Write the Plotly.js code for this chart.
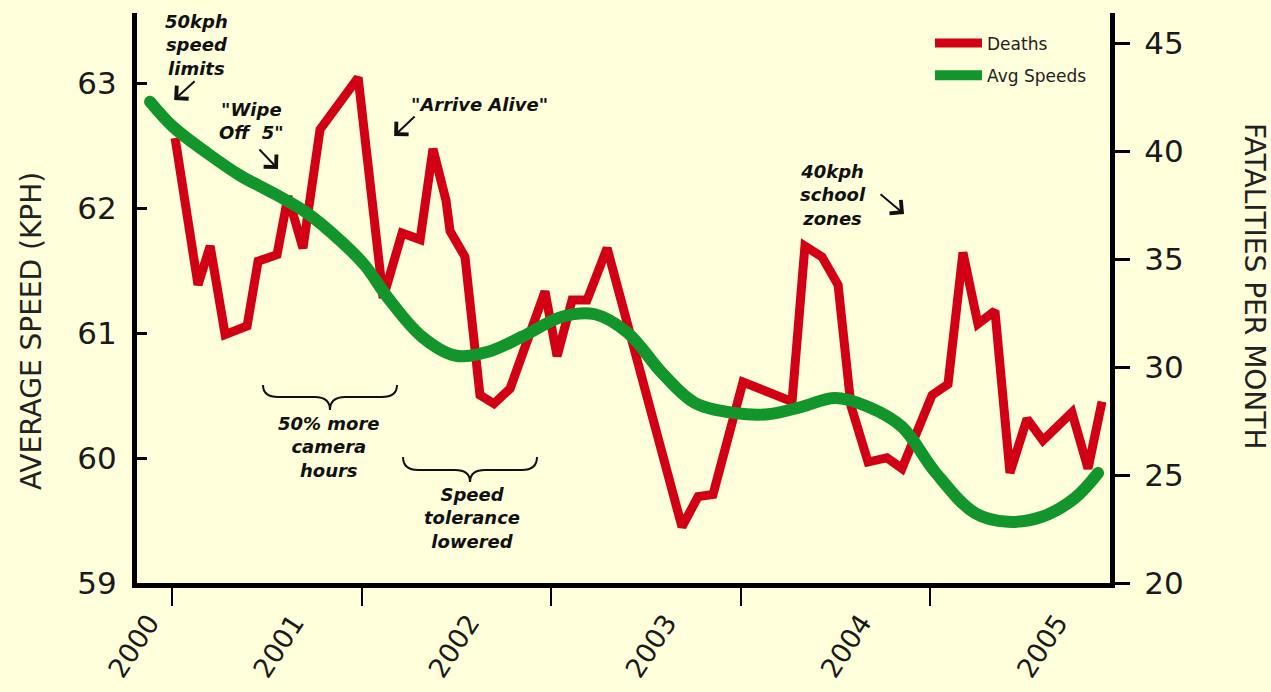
<!DOCTYPE html>
<html>
<head>
<meta charset="utf-8">
<script src="https://cdn.plot.ly/plotly-3.0.1.min.js"></script>
<style>
html,body{margin:0;padding:0;background:#FFFFDC;}
#chart{width:1271px;height:692px;}
.overplot .xy2 .js-line{stroke-linecap:round;}
</style>
</head>
<body>
<div id="chart"></div>
<script>
// ---- Data ----
// Monthly road deaths (right axis, fatalities per month), x in decimal years
const deathsX = [2000.016,2000.137,2000.201,2000.280,2000.396,2000.454,2000.554,2000.612,2000.691,2000.781,
  2000.982,2001.114,2001.214,2001.309,2001.377,2001.446,2001.467,2001.546,2001.625,2001.699,
  2001.784,2001.968,2002.032,2002.111,2002.190,2002.296,2002.691,2002.776,2002.855,2003.013,
  2003.272,2003.340,2003.430,2003.515,2003.583,2003.673,2003.773,2003.852,2004.011,2004.095,
  2004.174,2004.253,2004.343,2004.422,2004.512,2004.596,2004.749,2004.834,2004.908];
const deathsY = [40.6,33.8,35.6,31.5,31.9,34.9,35.2,37.9,35.5,41.0,
  43.4,33.2,36.2,35.9,40.1,37.7,36.3,35.1,28.7,28.3,
  29.0,33.5,30.5,33.1,33.1,35.5,22.6,24.0,24.1,29.3,
  28.4,35.6,35.1,33.8,28.2,25.6,25.8,25.3,28.7,29.2,
  35.3,32.0,32.6,25.1,27.6,26.6,27.9,25.3,28.4];

// Average speeds (left axis, km/h), smoothed trend
const speedX = [1999.884,2000.005,2000.185,2000.359,2000.533,2000.712,2000.887,2001.018,2001.140,2001.319,
  2001.493,2001.668,2001.847,2002.058,2002.232,2002.406,2002.586,2002.760,2002.971,2003.145,
  2003.325,2003.499,2003.673,2003.852,2004.026,2004.237,2004.412,2004.591,2004.765,2004.887];
const speedY = [62.85,62.65,62.44,62.26,62.12,61.96,61.74,61.54,61.28,60.97,
  60.82,60.85,60.97,61.13,61.15,61.00,60.68,60.44,60.36,60.35,
  60.41,60.48,60.41,60.25,59.89,59.56,59.49,59.53,59.68,59.88];

const yearTicks = [2000,2001,2002,2003,2004];
const yearLabels = ['2000','2001','2002','2003','2004','2005'];
const yearLabelPos = [1999.878,2000.643,2001.568,2002.608,2003.638,2004.673];
const speedTicks = [59,60,61,62,63];
const deathTicks = [20,25,30,35,40,45];

// Notes: [text, year, speed]
const notes = [
  ['50kph<br>speed<br>limits', 2000.127, 63.306],
  ['"Wipe<br>Off  5"', 2000.417, 62.700],
  ['"Arrive Alive"', 2001.620, 62.832],
  ['40kph<br>school<br>zones', 2003.488, 62.106],
  ['50% more<br>camera<br>hours', 2000.828, 60.090],
  ['Speed<br>tolerance<br>lowered', 2001.583, 59.520]
];
// Pointer arrows: [head year, head speed, tail dx px, tail dy px]
const pointers = [[2000.011, 62.864, 22, -20], [2000.559, 62.312, -20, -21],
                  [2001.172, 62.576, 22, -21], [2003.863, 61.952, -25, -21]];

// ---- Styling ----
const BG = '#FFFFDC';
const RED = '#D20014';
const GREEN = '#12952B';
const XR = [1999.815, 2004.950];
const noteFont = {family:'DejaVu Sans', size:18, color:'#111', weight:'bold', style:'italic'};

function brace(x0, x1, yTop, yMid, yTip, r){
  const xm = (x0 + x1) / 2;
  return 'M' + x0 + ',' + yTop +
    ' Q' + x0 + ',' + yMid + ' ' + (x0 + r) + ',' + yMid +
    ' L' + (xm - r) + ',' + yMid +
    ' Q' + xm + ',' + yMid + ' ' + xm + ',' + yTip +
    ' Q' + xm + ',' + yMid + ' ' + (xm + r) + ',' + yMid +
    ' L' + (x1 - r) + ',' + yMid +
    ' Q' + x1 + ',' + yMid + ' ' + x1 + ',' + yTop;
}

const traces = [
  {x: deathsX, y: deathsY, name: 'Deaths', type: 'scatter', mode: 'lines', legendgroup: 'd',
   xaxis: 'x', yaxis: 'y', line: {color: RED, width: 9}},
  {x: speedX, y: speedY, name: 'Avg Speeds', type: 'scatter', mode: 'lines', legendgroup: 's',
   xaxis: 'x', yaxis: 'y2', line: {color: GREEN, width: 12, shape: 'spline', smoothing: 1}},
  {x: [], y: [], type: 'scatter', mode: 'lines', xaxis: 'x2', yaxis: 'y', showlegend: false, hoverinfo: 'skip'}
];

const annotations = [
  {text: 'AVERAGE SPEED (KPH)', xref: 'paper', yref: 'paper', x: -0.109, y: 0.442, textangle: -90,
   xanchor: 'center', yanchor: 'middle', showarrow: false, font: {family: 'DejaVu Sans', size: 28, color: '#222'}},
  {text: 'FATALITIES PER MONTH', xref: 'paper', yref: 'paper', x: 1.149, y: 0.521, textangle: 90,
   xanchor: 'center', yanchor: 'middle', showarrow: false, font: {family: 'DejaVu Sans', size: 28, color: '#222'}}
];
notes.forEach(n => annotations.push({text: n[0], xref: 'x', yref: 'y2', x: n[1], y: n[2],
  xanchor: 'center', yanchor: 'middle', align: 'center', showarrow: false, font: noteFont}));
pointers.forEach(p => annotations.push({text: '', xref: 'x', yref: 'y2', x: p[0], y: p[1],
  ax: p[2], ay: p[3], showarrow: true, arrowhead: 4, arrowsize: 1.7, arrowwidth: 2,
  arrowcolor: '#111', standoff: 0}));

const layout = {
  width: 1271, height: 692,
  paper_bgcolor: BG, plot_bgcolor: BG,
  margin: {l: 137, r: 161, t: 13, b: 109},
  font: {family: 'DejaVu Sans', color: '#1a1a1a'},
  showlegend: true,
  legend: {x: 0.815, xanchor: 'left', y: 0.978, yanchor: 'top', bgcolor: 'rgba(0,0,0,0)',
           font: {family: 'DejaVu Sans', size: 17, color: '#222'}, itemwidth: 47,
           traceorder: 'grouped', tracegroupgap: 7},
  xaxis: {range: XR, tickvals: yearTicks, showticklabels: false, ticks: 'outside', ticklen: 18,
          tickwidth: 2, tickcolor: '#000', showline: true, linewidth: 5, linecolor: '#000',
          showgrid: false, zeroline: false},
  xaxis2: {range: XR, overlaying: 'x', anchor: 'y', side: 'bottom', tickvals: yearLabelPos,
           ticktext: yearLabels, tickangle: -57, ticks: 'outside', ticklen: 12,
           tickcolor: 'rgba(0,0,0,0)', showline: false, showgrid: false, zeroline: false,
           tickfont: {family: 'DejaVu Sans', size: 27, color: '#1a1a1a'}},
  yaxis: {range: [20, 46.39], side: 'right', tickvals: deathTicks, ticks: 'outside', ticklen: 15,
          tickwidth: 3, tickcolor: '#000', showline: true, linewidth: 5, linecolor: '#000',
          showgrid: false, zeroline: false, ticklabelstandoff: 8,
          tickfont: {family: 'DejaVu Sans', size: 31, color: '#1a1a1a'}},
  yaxis2: {range: [59, 63.56], side: 'left', overlaying: 'y', anchor: 'x', tickvals: speedTicks,
           ticks: 'inside', ticklen: 10, tickwidth: 3, tickcolor: '#000', showline: true,
           linewidth: 5, linecolor: '#000', showgrid: false, zeroline: false, ticklabelstandoff: 9,
           tickfont: {family: 'DejaVu Sans', size: 31, color: '#1a1a1a'}},
  shapes: [
    {type: 'path', xref: 'x', yref: 'y2', path: brace(2000.480, 2001.187, 60.584, 60.488, 60.384, 0.08),
     line: {color: '#111', width: 2}},
    {type: 'path', xref: 'x', yref: 'y2', path: brace(2001.219, 2001.926, 60.008, 59.904, 59.808, 0.08),
     line: {color: '#111', width: 2}}
  ],
  annotations: annotations
};

Plotly.newPlot('chart', traces, layout, {displayModeBar: false, responsive: false});
</script>
</body>
</html>
